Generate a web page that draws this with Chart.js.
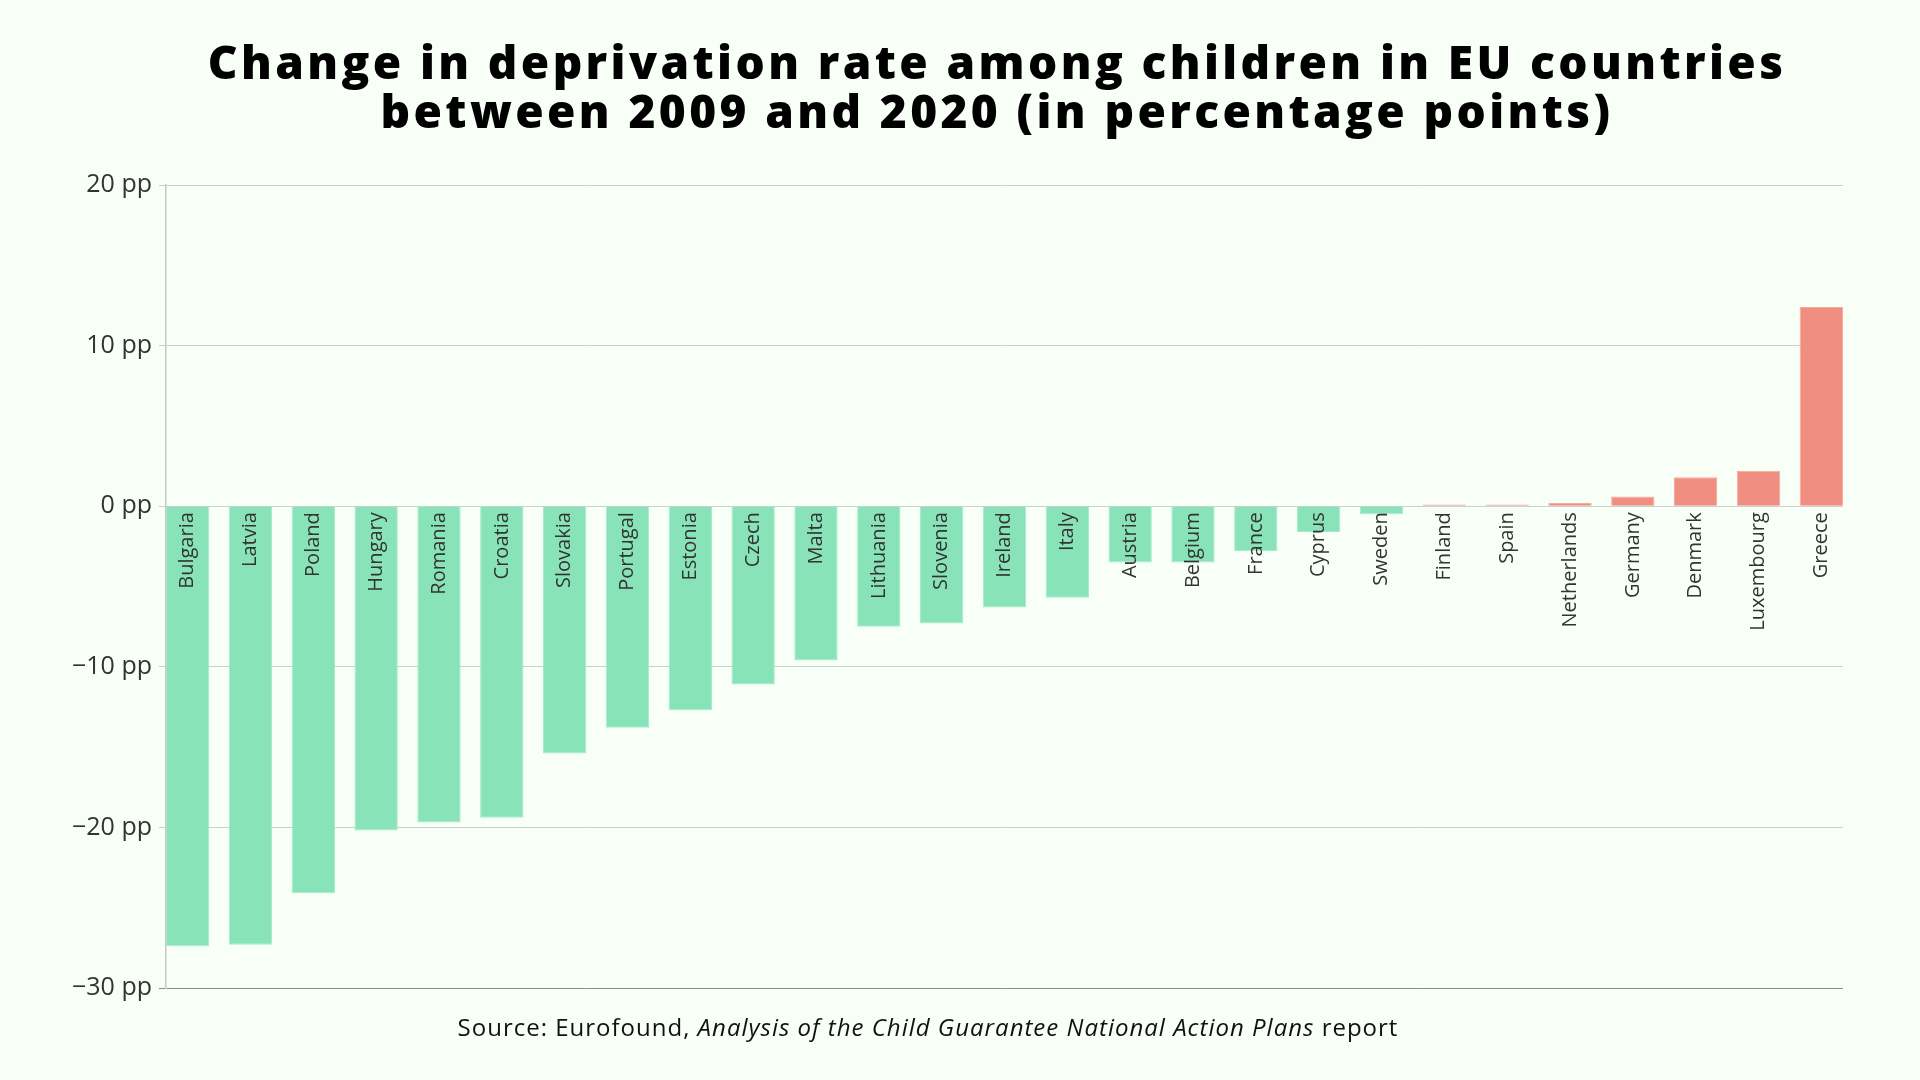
<!DOCTYPE html>
<html>
<head>
<meta charset="utf-8">
<script src="https://cdn.jsdelivr.net/npm/chart.js@4/dist/chart.umd.min.js"></script>
<style>
  html, body { margin: 0; padding: 0; background: #f7fff7; }
  canvas { display: block; }
</style>
</head>
<body>
<canvas id="chart" width="1920" height="1080"></canvas>
<script>
// data
var countries = ["Bulgaria", "Latvia", "Poland", "Hungary", "Romania", "Croatia", "Slovakia", "Portugal",
  "Estonia", "Czech", "Malta", "Lithuania", "Slovenia", "Ireland", "Italy", "Austria", "Belgium", "France",
  "Cyprus", "Sweden", "Finland", "Spain", "Netherlands", "Germany", "Denmark", "Luxembourg", "Greece"];
var changePP = [-27.4, -27.3, -24.1, -20.2, -19.7, -19.4, -15.4, -13.8, -12.7, -11.1, -9.6, -7.5, -7.3,
  -6.3, -5.7, -3.5, -3.5, -2.8, -1.6, -0.5, 0.1, 0.1, 0.2, 0.6, 1.8, 2.2, 12.4];
var yTicks = [-30, -20, -10, 0, 10, 20];
var titleLines = ["Change in deprivation rate among children in EU countries",
  "between 2009 and 2020 (in percentage points)"];
var sourceParts = [
  { text: "Source: Eurofound, ", italic: false },
  { text: "Analysis of the Child Guarantee National Action Plans", italic: true },
  { text: " report", italic: false }
];

var BAR_RATIO = 0.69;
var FONT = '"Open Sans", "Noto Sans", sans-serif';

var textPlugin = {
  id: 'texts',
  beforeDraw: function (chart) {
    var c = chart.ctx;
    c.save();
    c.fillStyle = '#f7fff7';
    c.fillRect(0, 0, chart.width, chart.height);
    c.restore();
  },
  afterDraw: function (chart) {
    var c = chart.ctx;
    c.save();
    c.fillStyle = '#000';
    c.textAlign = 'center';
    c.textBaseline = 'alphabetic';
    c.font = '800 46px ' + FONT;
    c.letterSpacing = '3.4px';
    titleLines.forEach(function (t, i) {
      c.fillText(t, 997, 79 + i * 49);
    });

    // source line, mixed upright / italic
    c.fillStyle = '#111';
    c.textAlign = 'left';
    c.letterSpacing = '1px';
    var widths = sourceParts.map(function (p) {
      c.font = (p.italic ? 'italic ' : '') + '24px ' + FONT;
      return c.measureText(p.text).width;
    });
    var total = widths.reduce(function (a, b) { return a + b; }, 0);
    var x = 928 - total / 2;
    sourceParts.forEach(function (p, i) {
      c.font = (p.italic ? 'italic ' : '') + '24px ' + FONT;
      c.fillText(p.text, x, 1036);
      x += widths[i];
    });
    c.restore();
  }
};

var ctx = document.getElementById("chart");
var chart = new Chart(ctx, {
  type: 'bar',
  data: {
    datasets: [{
      data: changePP.map(function (v, i) { return { x: i, y: v }; }),
      backgroundColor: function (c) { return c.raw && c.raw.y < 0 ? '#89e3b8' : '#f08e82'; },
      borderColor: function (c) { return c.raw && c.raw.y < 0 ? '#a3ecc8' : '#f4aaa0'; },
      borderWidth: 1,
      categoryPercentage: 1,
      barPercentage: BAR_RATIO
    }]
  },
  options: {
    responsive: false,
    animation: false,
    devicePixelRatio: 1,
    layout: { padding: { left: 65, right: 77, top: 185, bottom: 92 } },
    plugins: {
      legend: { display: false },
      title: { display: false },
      tooltip: { enabled: false }
    },
    scales: {
      x: {
        type: 'linear',
        position: { y: 0 },
        min: -BAR_RATIO / 2,
        max: countries.length - 1 + BAR_RATIO / 2,
        offset: false,
        grid: { display: false, drawTicks: false, offset: false },
        border: { display: false },
        afterBuildTicks: function (s) {
          s.ticks = countries.map(function (_, i) { return { value: i }; });
        },
        ticks: {
          z: 1,
          autoSkip: false,
          minRotation: 90,
          maxRotation: 90,
          padding: 6,
          color: '#333',
          font: { family: FONT, size: 20 },
          callback: function (v) { return countries[v]; }
        }
      },
      y: {
        min: yTicks[0],
        max: yTicks[yTicks.length - 1],
        afterBuildTicks: function (s) {
          s.ticks = yTicks.map(function (v) { return { value: v }; });
        },
        grid: {
          color: function (c) { return c.tick && c.tick.value === yTicks[0] ? '#8c8c8c' : '#cdcfcd'; },
          tickLength: 7,
          lineWidth: 1
        },
        border: { display: true, color: '#c6c8c6', width: 1.5 },
        ticks: {
          padding: 7,
          color: '#333',
          font: { family: FONT, size: 25 },
          callback: function (v) { return (v < 0 ? '\u2212' : '') + Math.abs(v) + ' pp'; }
        }
      }
    }
  },
  plugins: [textPlugin]
});
</script>
</body>
</html>
